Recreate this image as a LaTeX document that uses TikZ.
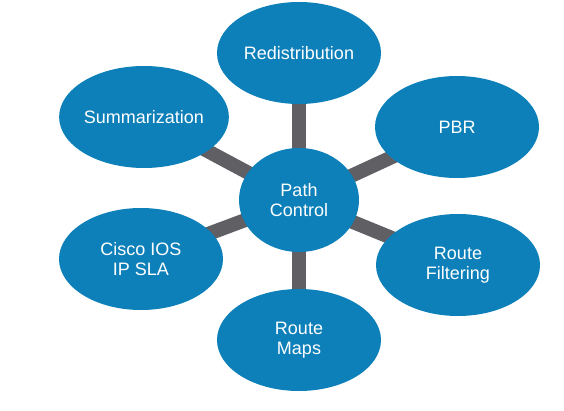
\documentclass[tikz,border=0pt]{standalone}
\usepackage{fontspec}
\setmainfont{Liberation Sans}
\usetikzlibrary{shapes.geometric,backgrounds}
\definecolor{ciscoblue}{RGB}{14,128,185}
\definecolor{bargray}{RGB}{95,95,100}
\begin{document}
\begin{tikzpicture}[x=1pt,y=-1pt,
  topic/.style={ellipse, fill=ciscoblue, minimum width=164pt, minimum height=102pt,
    inner sep=0pt, text=white, font=\fontsize{18}{20.5}\selectfont, align=center},
  hub/.style={ellipse, fill=ciscoblue, minimum width=120pt, minimum height=104pt,
    inner sep=0pt, text=white, font=\fontsize{18}{20.5}\selectfont, align=center},
  bar/.style={draw=bargray, line width=14pt}]
\useasboundingbox (0,0) rectangle (564,411);
\node[hub] (pc) at (299,200) {Path\\Control};
\node[topic] (redis) at (299,53) {Redistribution};
\node[topic] (summ) at (144,117) {Summarization};
\node[topic] (pbr) at (457,127) {PBR};
\node[topic] (sla) at (141,259) {Cisco IOS\\IP SLA};
\node[topic] (filt) at (458,265) {Route\\Filtering};
\node[topic] (maps) at (299,340) {Route\\Maps};
\begin{scope}[on background layer]
  \fill[white] (0,0) rectangle (564,411);
  \foreach \n in {redis,summ,pbr,sla,filt,maps}
    \draw[bar] (pc.center) -- (\n.center);
\end{scope}
\end{tikzpicture}
\end{document}
